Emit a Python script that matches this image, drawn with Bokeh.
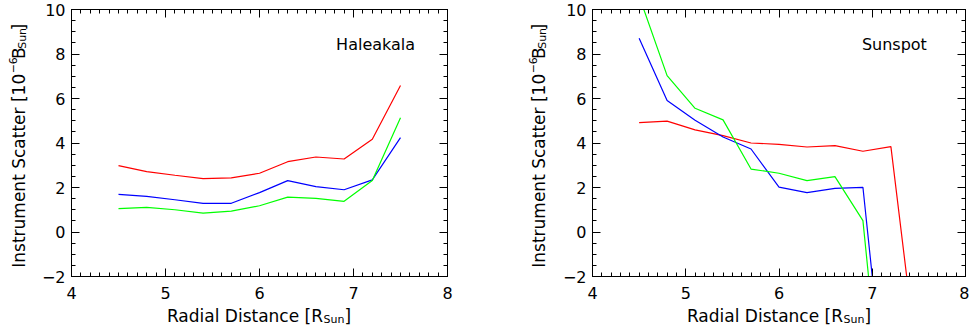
import math
from bokeh.plotting import figure
from bokeh.layouts import row, column
from bokeh.models import (Label, LinearAxis, SingleIntervalTicker, Range1d,
                          CustomLabelingPolicy)
from bokeh.embed import file_html
from bokeh.resources import INLINE

# ---- data ----
radial = [4.5, 4.8, 5.1, 5.4, 5.7, 6.0, 6.3, 6.6, 6.9, 7.2, 7.5]

hal_red = [2.98, 2.71, 2.55, 2.40, 2.43, 2.64, 3.16, 3.37, 3.28, 4.17, 6.58]
hal_blue = [1.69, 1.60, 1.45, 1.29, 1.29, 1.77, 2.31, 2.04, 1.90, 2.34, 4.24]
hal_green = [1.05, 1.11, 1.00, 0.85, 0.94, 1.18, 1.57, 1.51, 1.38, 2.31, 5.13]

sun_red = [4.92, 4.98, 4.59, 4.33, 4.00, 3.94, 3.82, 3.88, 3.63, 3.84, -6.5]
sun_blue = [8.71, 5.91, 5.02, 4.27, 3.73, 2.02, 1.77, 1.96, 2.01, -10.0, -14.0]
sun_green = [10.6, 7.03, 5.56, 5.04, 2.83, 2.64, 2.31, 2.49, 0.51, -12.0, -14.0]

panel_titles = ["Haleakala", "Sunspot"]
x_limits = (4, 8)
y_limits = (-2, 10)

FONT = "DejaVu Sans"
AX_SIZE = "17px"
SUB_SIZE = "11px"
TICK_SIZE = "16px"
INK = "black"

MAIN_H = 304
XLAB_H = 24


def lab(**kw):
    return Label(text_font=FONT, text_color=INK, text_baseline="alphabetic", **kw)


def blank_fig(w, h):
    f = figure(width=w, height=h, x_range=Range1d(0, w), y_range=Range1d(0, h),
               output_backend="svg", toolbar_location=None,
               x_axis_type=None, y_axis_type=None, min_border=0)
    f.outline_line_color = None
    f.background_fill_color = "white"
    f.border_fill_color = "white"
    return f


def make_main(width, border_left, border_right):
    p = figure(width=width, height=MAIN_H, x_range=Range1d(*x_limits), y_range=Range1d(*y_limits),
               output_backend="svg", toolbar_location=None,
               x_axis_type=None, y_axis_type=None,
               min_border_left=border_left, min_border_right=border_right,
               min_border_top=9, min_border_bottom=28)
    p.outline_line_color = "black"
    p.background_fill_color = "white"
    p.border_fill_color = "white"
    for side in ["below", "left", "above", "right"]:
        if side in ("below", "above"):
            tk = SingleIntervalTicker(interval=1, num_minor_ticks=10)
        else:
            tk = SingleIntervalTicker(interval=2, num_minor_ticks=4)
        ax = LinearAxis(ticker=tk)
        ax.axis_line_color = "black"
        ax.major_tick_in = 8
        ax.major_tick_out = 0
        ax.minor_tick_in = 4
        ax.minor_tick_out = 0
        ax.major_tick_line_color = "black"
        ax.minor_tick_line_color = "black"
        ax.major_label_text_font = FONT
        ax.major_label_text_font_size = TICK_SIZE
        ax.major_label_text_color = INK
        if side in ("above", "right"):
            ax.major_label_text_font_size = "1px"
            ax.major_label_standoff = 0
            ax.major_label_policy = CustomLabelingPolicy(code="return []")
        elif side == "below":
            ax.major_label_standoff = 10
        else:
            ax.major_label_standoff = 6
        p.add_layout(ax, side)
    return p


def make_ylab(w, base_x):
    f = blank_fig(w, MAIN_H)
    a = math.pi / 2
    cy = MAIN_H - 142.5
    y_end = cy + 69.3
    f.add_layout(lab(x=base_x, y=y_end, angle=a, text="Instrument Scatter [10", text_align="right",
                     text_font_size=AX_SIZE))
    f.add_layout(lab(x=base_x - 6, y=y_end + 0.5, angle=a, text="\u22126", text_align="left",
                     text_font_size=SUB_SIZE))
    f.add_layout(lab(x=base_x, y=y_end + 16.7, angle=a, text="B", text_align="left",
                     text_font_size=AX_SIZE))
    f.add_layout(lab(x=base_x + 3, y=y_end + 28.4, angle=a, text="Sun", text_align="left",
                     text_font_size=SUB_SIZE))
    f.add_layout(lab(x=base_x, y=y_end + 49.3, angle=a, text="]", text_align="left",
                     text_font_size=AX_SIZE))
    return f


def make_xlab(w, center_x):
    f = blank_fig(w, XLAB_H)
    r_end = center_x + 64.5
    f.add_layout(lab(x=r_end, y=12.5, text="Radial Distance [R", text_align="right",
                     text_font_size=AX_SIZE))
    f.add_layout(lab(x=r_end + 0.5, y=9.5, text="Sun", text_align="left",
                     text_font_size=SUB_SIZE))
    f.add_layout(lab(x=r_end + 21.5, y=12.5, text="]", text_align="left",
                     text_font_size=AX_SIZE))
    return f


# ---- left panel ----
p1 = make_main(451, 31, 42)
p1.line(radial, hal_red, color="#ff0000", line_width=1.2)
p1.line(radial, hal_blue, color="#0000ff", line_width=1.2)
p1.line(radial, hal_green, color="#00ff00", line_width=1.2)
p1.add_layout(Label(x=6.815, y=8.43, text=panel_titles[0], text_align="left", text_baseline="middle",
                    text_font=FONT, text_font_size="16px", text_color=INK))
left = column(row(make_ylab(38, 18.5), p1), make_xlab(489, 258))

# ---- right panel ----
p2 = make_main(410, 30, 2)
p2.line(radial, sun_red, color="#ff0000", line_width=1.2)
p2.line(radial, sun_blue, color="#0000ff", line_width=1.2)
p2.line(radial, sun_green, color="#00ff00", line_width=1.2)
p2.add_layout(Label(x=6.889, y=8.43, text=panel_titles[1], text_align="left", text_baseline="middle",
                    text_font=FONT, text_font_size="16px", text_color=INK))
right = column(row(make_ylab(70, 49.5), p2), make_xlab(480, 289))

layout = row(left, right)
open("out.html", "w").write(file_html(layout, INLINE))
